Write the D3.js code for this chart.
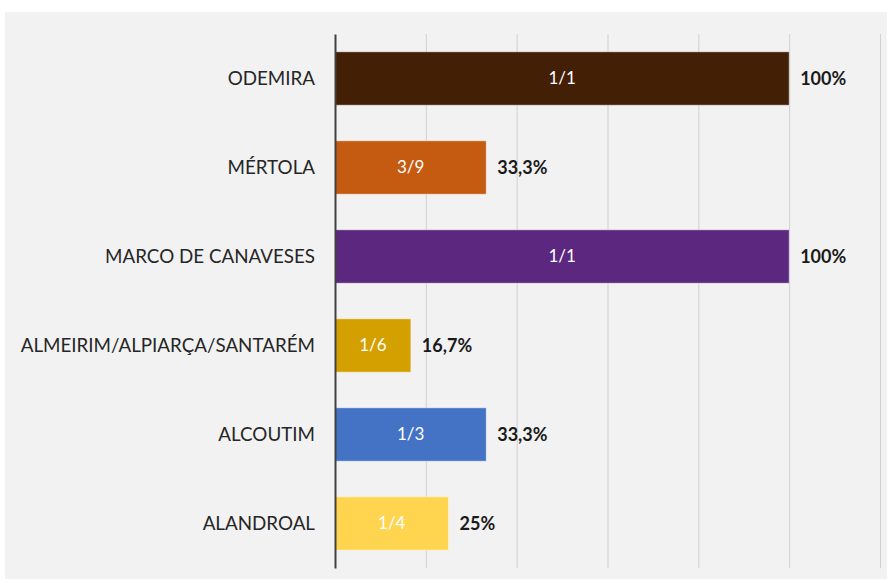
<!DOCTYPE html>
<html>
<head>
<meta charset="utf-8">
<script src="https://cdn.jsdelivr.net/npm/d3@7"></script>
<style>
  body { margin: 0; background: #fff; }
  svg { display: block; }
</style>
</head>
<body>
<div id="chart"></div>
<script>
// data
var categories = ["ODEMIRA", "MÉRTOLA", "MARCO DE CANAVESES", "ALMEIRIM/ALPIARÇA/SANTARÉM", "ALCOUTIM", "ALANDROAL"];
var values = [1, 0.333, 1, 0.167, 0.333, 0.25];
var fractions = ["1/1", "3/9", "1/1", "1/6", "1/3", "1/4"];
var pctLabels = ["100%", "33,3%", "100%", "16,7%", "33,3%", "25%"];
var colors = ["#431f05", "#c55a11", "#5b277f", "#d4a000", "#4472c4", "#ffd54f"];
var ticks = [0, 0.2, 0.4, 0.6, 0.8, 1, 1.2];

var W = 887, H = 583;
var margin = {top: 34, right: 7, bottom: 15, left: 335};

var svg = d3.select("#chart")
  .append("svg")
    .attr("width", W)
    .attr("height", H);

// grey plot panel
svg.append("rect")
  .attr("x", 5).attr("y", 12)
  .attr("width", W - 5).attr("height", H - 16)
  .attr("fill", "#f2f2f2");

var x = d3.scaleLinear()
  .domain([0, 1.2])
  .range([margin.left, W - margin.right]);

var y = d3.scaleBand()
  .domain(categories)
  .range([margin.top, H - margin.bottom])
  .paddingInner(0.4)
  .paddingOuter(0.2);

// vertical gridlines
svg.append("g")
  .attr("transform", "translate(0," + margin.top + ")")
  .call(d3.axisBottom(x).tickValues(ticks.slice(1))
    .tickSize(H - margin.bottom - margin.top).tickFormat(""))
  .call(function(g) { g.select(".domain").remove(); })
  .selectAll("line")
    .attr("stroke", "#d0d0d0")
    .attr("stroke-width", 1);

// bars
svg.append("g")
  .selectAll("rect")
  .data(categories)
  .enter()
  .append("rect")
    .attr("x", x(0))
    .attr("y", function(d) { return y(d); })
    .attr("width", function(d, i) { return x(values[i]) - x(0); })
    .attr("height", y.bandwidth())
    .attr("fill", function(d, i) { return colors[i]; })
    .attr("stroke", "rgba(255,255,255,0.45)")
    .attr("stroke-width", 1);

// fraction labels inside bars
svg.append("g")
  .selectAll("text")
  .data(categories)
  .enter()
  .append("text")
    .attr("x", function(d, i) { return (x(0) + x(values[i])) / 2; })
    .attr("y", function(d) { return y(d) + y.bandwidth() / 2; })
    .attr("dy", "0.35em")
    .attr("text-anchor", "middle")
    .style("font-family", "Lato, 'Open Sans', sans-serif")
    .style("font-size", "17px")
    .attr("fill", "#fff")
    .text(function(d, i) { return fractions[i]; });

// percentage labels
svg.append("g")
  .selectAll("text")
  .data(categories)
  .enter()
  .append("text")
    .attr("x", function(d, i) { return x(values[i]) + 11; })
    .attr("y", function(d) { return y(d) + y.bandwidth() / 2; })
    .attr("dy", "0.35em")
    .style("font-family", "Lato, 'Open Sans', sans-serif")
    .style("font-size", "18px")
    .style("font-weight", "bold")
    .attr("fill", "#1a1a1a")
    .text(function(d, i) { return pctLabels[i]; });

// category axis
var yAxis = svg.append("g")
  .attr("transform", "translate(" + margin.left + ",0)")
  .call(d3.axisLeft(y).tickSize(0).tickPadding(20));
yAxis.select(".domain")
  .attr("stroke", "#404040")
  .attr("stroke-width", 2);
yAxis.selectAll("text")
  .style("font-family", "Lato, 'Open Sans', sans-serif")
  .style("font-size", "18.8px")
  .attr("fill", "#262626");
</script>
</body>
</html>
